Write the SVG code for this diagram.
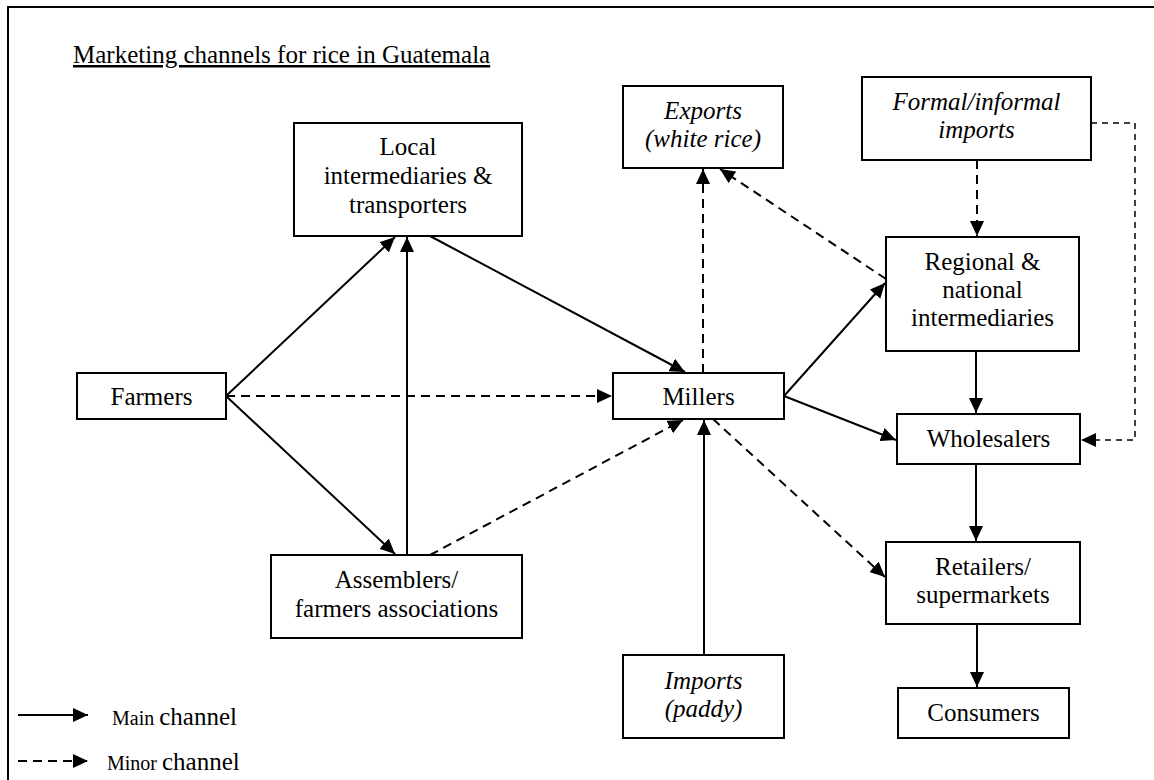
<svg xmlns="http://www.w3.org/2000/svg" width="1154" height="780" viewBox="0 0 1154 780">
<defs>
<style>
text{font-family:"Liberation Serif",Tinos,"Times New Roman","Noto Serif","DejaVu Serif",serif;fill:#000}
.box{fill:#fff;stroke:#000;stroke-width:2}
.t{font-size:25px;text-anchor:middle}
.i{font-style:italic}
.s{fill:none;stroke:#000;stroke-width:2}
.d{fill:none;stroke:#000;stroke-width:2;stroke-dasharray:9 6}
.d2{fill:none;stroke:#000;stroke-width:1.5;stroke-dasharray:6 5}
</style>
<marker id="ah" markerWidth="16" markerHeight="14" refX="15" refY="7" orient="auto" markerUnits="userSpaceOnUse">
<path d="M0,0 L15,7 L0,14 z" fill="#000"/>
</marker>
</defs>
<rect width="1154" height="780" fill="#fff"/>
<path d="M8,790 V7 H1160" fill="none" stroke="#000" stroke-width="2"/>
<text x="73" y="63" font-size="25" text-decoration="underline">Marketing channels for rice in Guatemala</text>

<g id="connectors">
<line class="s" x1="226" y1="396" x2="395" y2="237" marker-end="url(#ah)"/>
<line class="s" x1="226" y1="396" x2="395" y2="554" marker-end="url(#ah)"/>
<line class="d" x1="226" y1="396" x2="612" y2="396" marker-end="url(#ah)"/>
<line class="s" x1="407" y1="555" x2="407" y2="237" marker-end="url(#ah)"/>
<line class="s" x1="430" y1="236" x2="685" y2="372" marker-end="url(#ah)"/>
<line class="d" x1="430" y1="555" x2="683" y2="420" marker-end="url(#ah)"/>
<line class="s" x1="704" y1="655" x2="704" y2="420" marker-end="url(#ah)"/>
<line class="d" x1="703" y1="373" x2="703" y2="169" marker-end="url(#ah)"/>
<line class="d" x1="886" y1="279" x2="720" y2="169" marker-end="url(#ah)"/>
<line class="s" x1="784" y1="396" x2="885" y2="283" marker-end="url(#ah)"/>
<line class="s" x1="784" y1="396" x2="896" y2="440" marker-end="url(#ah)"/>
<line class="d" x1="713" y1="419" x2="885" y2="577" marker-end="url(#ah)"/>
<line class="d" x1="977" y1="160" x2="977" y2="236" marker-end="url(#ah)"/>
<path class="d2" d="M1091,123 H1135 V440 H1081" marker-end="url(#ah)"/>
<line class="s" x1="976" y1="351" x2="976" y2="413" marker-end="url(#ah)"/>
<line class="s" x1="976" y1="464" x2="976" y2="541" marker-end="url(#ah)"/>
<line class="s" x1="977" y1="624" x2="977" y2="687" marker-end="url(#ah)"/>
</g>

<g id="farmers"><rect class="box" x="77" y="373" width="149" height="46"/><text class="t" x="151.5" y="405">Farmers</text></g>
<g id="local"><rect class="box" x="294" y="123" width="228" height="113"/><text class="t" x="408" y="155">Local</text><text class="t" x="408" y="184">intermediaries &amp;</text><text class="t" x="408" y="213">transporters</text></g>
<g id="assemblers"><rect class="box" x="271" y="555" width="251" height="83"/><text class="t" x="396.5" y="588">Assemblers/</text><text class="t" x="396.5" y="617">farmers associations</text></g>
<g id="millers"><rect class="box" x="613" y="373" width="171" height="46"/><text class="t" x="698.5" y="405">Millers</text></g>
<g id="exports"><rect class="box" x="623" y="86" width="160" height="82"/><text class="t i" x="703" y="119">Exports</text><text class="t i" x="703" y="147">(white rice)</text></g>
<g id="imports-paddy"><rect class="box" x="623" y="655" width="161" height="83"/><text class="t i" x="703.5" y="689">Imports</text><text class="t i" x="703.5" y="717">(paddy)</text></g>
<g id="formal-imports"><rect class="box" x="862" y="77" width="229" height="83"/><text class="t i" x="976.5" y="110">Formal/informal</text><text class="t i" x="976.5" y="138">imports</text></g>
<g id="regional"><rect class="box" x="886" y="237" width="193" height="114"/><text class="t" x="982.5" y="270">Regional &amp;</text><text class="t" x="982.5" y="298">national</text><text class="t" x="982.5" y="326">intermediaries</text></g>
<g id="wholesalers"><rect class="box" x="897" y="414" width="183" height="50"/><text class="t" x="988.5" y="447">Wholesalers</text></g>
<g id="retailers"><rect class="box" x="886" y="542" width="194" height="82"/><text class="t" x="983" y="575">Retailers/</text><text class="t" x="983" y="603">supermarkets</text></g>
<g id="consumers"><rect class="box" x="898" y="688" width="171" height="50"/><text class="t" x="983.5" y="721">Consumers</text></g>

<g id="legend">
<line class="s" x1="18" y1="715" x2="88" y2="715" marker-end="url(#ah)"/>
<line class="d" x1="18" y1="761" x2="88" y2="761" marker-end="url(#ah)"/>
<text x="112" y="725" font-size="20">Main <tspan font-size="25">channel</tspan></text>
<text x="107" y="770" font-size="20">Minor <tspan font-size="25">channel</tspan></text>
</g>
</svg>
